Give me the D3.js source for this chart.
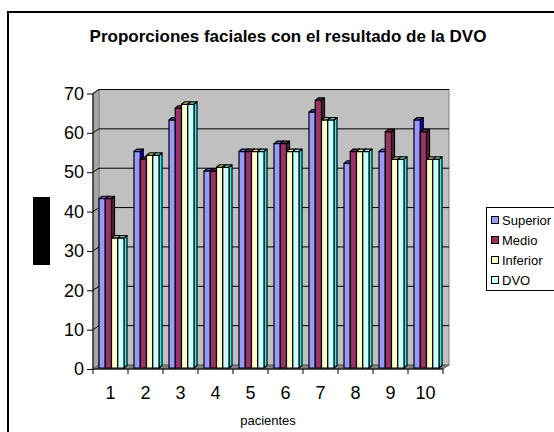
<!DOCTYPE html>
<html><head><meta charset="utf-8">
<script src="https://cdn.jsdelivr.net/npm/d3@7"></script>
<style>html,body{margin:0;padding:0;background:#fff;} svg{display:block;} svg text{font-family:"Liberation Sans",Arial,sans-serif;}</style>
</head><body>
<script>
const categories = ["1","2","3","4","5","6","7","8","9","10"];
const seriesNames = ["Superior","Medio","Inferior","DVO"];
const superior = [43,55,63,50,55,57,65,52,55,63];
const medio    = [43,53,66,50,55,57,68,55,60,60];
const inferior = [33,54,67,51,55,55,63,55,53,53];
const dvo      = [33,54,67,51,55,55,63,55,53,53];
const yTicks = [0,10,20,30,40,50,60,70];
const colors = ["#9999FF","#993366","#FFFFCC","#CCFFFF"];
const title = "Proporciones faciales con el resultado de la DVO";
const xTitle = "pacientes";

const values = [superior, medio, inferior, dvo];
const W = 554, H = 432;
const FONT = "'Liberation Sans', Arial, sans-serif";
const svg = d3.select("body").append("svg").attr("width", W).attr("height", H);

// outer frame
svg.append("rect").attr("x",8).attr("y",12).attr("width",600).attr("height",500)
  .attr("fill","#fff").attr("stroke","#000").attr("stroke-width",2);

const x = d3.scaleBand().domain(categories).range([93,443]);
const y = d3.scaleLinear().domain([0,70]).range([369,93.5]);
const groupW = 25;
const xs = d3.scaleBand().domain(seriesNames).range([0,groupW]);
const DX = 6, DY = 4;   // wall depth
const bdx = 3, bdy = 2.5; // bar depth

const x0 = x.range()[0], x1 = x.range()[1];
const yTop = y(70), yBot = y(0);

// back wall
svg.append("rect").attr("x",x0+DX).attr("y",yTop-DY).attr("width",x1-x0).attr("height",yBot-yTop)
  .attr("fill","#C0C0C0").attr("stroke","#808080");
// left wall
svg.append("polygon").attr("points",[[x0,yTop],[x0+DX,yTop-DY],[x0+DX,yBot-DY],[x0,yBot]].join(" "))
  .attr("fill","#A6A6A6").attr("stroke","#808080");
// floor
svg.append("polygon").attr("points",[[x0,yBot],[x0+DX,yBot-DY],[x1+DX,yBot-DY],[x1,yBot]].join(" "))
  .attr("fill","#808080").attr("stroke","#606060");

// gridlines
yTicks.filter(t=>t>0).forEach(t=>{
  svg.append("polyline").attr("points",[[x0,y(t)],[x0+DX,y(t)-DY],[x1+DX,y(t)-DY]].join(" "))
    .attr("fill","none").attr("stroke","#000").attr("stroke-width",1);
});

// bars
function shade(c,k){const h=d3.hsl(c); h.l=h.l*k; return h.toString();}
categories.forEach((cat,i)=>{
  seriesNames.forEach((s,j)=>{
    const v = values[j][i];
    const bx0 = x(cat) + (x.bandwidth()-groupW)/2 + 1 + xs(s);
    const bx1 = bx0 + xs.bandwidth();
    const by0 = y(v) - 1, byb = y(0) - 1;
    const g = svg.append("g").attr("stroke","#000").attr("stroke-width",1.2).attr("stroke-linejoin","round");
    g.append("polygon").attr("points",[[bx1,by0],[bx1+bdx,by0-bdy],[bx1+bdx,byb-bdy],[bx1,byb]].join(" "))
      .attr("fill",shade(colors[j],0.6));
    g.append("polygon").attr("points",[[bx0,by0],[bx0+bdx,by0-bdy],[bx1+bdx,by0-bdy],[bx1,by0]].join(" "))
      .attr("fill",shade(colors[j],0.85));
    g.append("rect").attr("x",bx0).attr("y",by0).attr("width",bx1-bx0).attr("height",byb-by0)
      .attr("fill",colors[j]);
  });
});

// axes lines
svg.append("line").attr("x1",x0).attr("x2",x0).attr("y1",yTop).attr("y2",yBot).attr("stroke","#000");
svg.append("line").attr("x1",x0).attr("x2",x1).attr("y1",yBot).attr("y2",yBot).attr("stroke","#000");

// y axis
const yAxis = d3.axisLeft(y).tickValues(yTicks).tickSize(6).tickPadding(3);
const ya = svg.append("g").attr("transform",`translate(${x0},0)`).call(yAxis);
ya.select(".domain").remove();
ya.attr("font-family",FONT);
ya.selectAll("text").attr("font-size",18).attr("font-family",FONT).attr("fill","#000");

// x axis ticks at band boundaries
const bounds = categories.map(c=>x(c)).concat([x1]);
svg.selectAll(".xt").data(bounds).enter().append("line")
  .attr("x1",d=>d).attr("x2",d=>d).attr("y1",yBot).attr("y2",yBot+5).attr("stroke","#000");
svg.selectAll(".xl").data(categories).enter().append("text")
  .attr("x",d=>x(d)+x.bandwidth()/2).attr("y",398.5).attr("text-anchor","middle")
  .attr("font-size",18).attr("font-family",FONT).text(d=>d);

// titles
svg.append("text").attr("x",288).attr("y",41.5).attr("text-anchor","middle")
  .attr("font-size",17).attr("font-weight","bold").attr("font-family",FONT).text(title);
svg.append("text").attr("x",268).attr("y",425).attr("text-anchor","middle")
  .attr("font-size",13).attr("font-family",FONT).text(xTitle);

// obscured y-axis title block
svg.append("rect").attr("x",33).attr("y",197).attr("width",17).attr("height",68).attr("fill","#000");

// legend
svg.append("rect").attr("x",486.5).attr("y",207.5).attr("width",100).attr("height",83)
  .attr("fill","#fff").attr("stroke","#000");
seriesNames.forEach((s,j)=>{
  const cy = 220 + j*20;
  svg.append("rect").attr("x",491.5).attr("y",cy-3.5).attr("width",7).attr("height",7)
    .attr("fill",colors[j]).attr("stroke","#000");
  svg.append("text").attr("x",502).attr("y",cy+4.5).attr("font-size",13).attr("font-family",FONT).text(s);
});
</script>
</body></html>
